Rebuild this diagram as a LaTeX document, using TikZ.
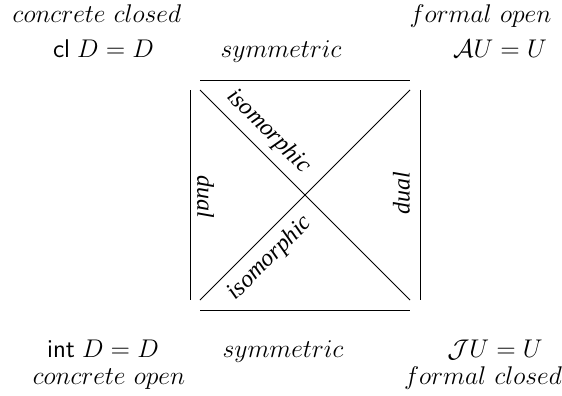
\documentclass[tikz,border=0pt,12pt]{standalone}
\usepackage{fix-cm}
\usepackage{fontspec}
\newfontfamily\labelfont{Liberation Serif}
\usetikzlibrary{calc}

\begin{document}
\begin{tikzpicture}[
    x=0.5pt, y=-0.5pt,
    corner/.style={anchor=base, inner sep=0pt, font=\fontsize{12.8}{15}\selectfont},
    relation/.style={inner sep=0pt, font=\labelfont\itshape},
    edge/.style={line width=0.4pt}
]
    \useasboundingbox (0,0) rectangle (562,396);

    % square corners and frame ends
    \coordinate (nw) at (200,90);
    \coordinate (ne) at (410,90);
    \coordinate (sw) at (200,300);
    \coordinate (se) at (410,300);

    \node[corner] (closedName) at (97,23) {$concrete\ closed$};
    \node[corner] (closedEq) at (103.5,57) {$\mathsf{cl}\; D = D$};
    \node[corner] (symTop) at (281,57) {$symmetric$};
    \node[corner] (openName) at (480.5,23) {$formal\ open$};
    \node[corner] (openEq) at (500,57) {$\mathcal{A}U = U$};

    \node[corner] (intEq) at (103,357) {$\mathsf{int}\; D = D$};
    \node[corner] (symBot) at (283,357) {$symmetric$};
    \node[corner] (formEq) at (495,357) {$\mathcal{J}U = U$};
    \node[corner] (intName) at (109,384) {$concrete\ open$};
    \node[corner] (formName) at (483,384) {$formal\ closed$};

    \draw[edge] ($(nw)+(0,-10)$) -- ($(ne)+(0,-10)$);
    \draw[edge] ($(sw)+(0,10)$) -- ($(se)+(0,10)$);
    \draw[edge] ($(nw)+(-10,0)$) -- ($(sw)+(-10,0)$);
    \draw[edge] ($(ne)+(10,0)$) -- ($(se)+(10,0)$);
    \draw[edge] (nw) -- (se);
    \draw[edge] (sw) -- (ne);

    \node[relation, rotate=-45] (isoTop) at (268.5,131.5) {isomorphic};
    \node[relation, rotate=45] (isoBot) at (270,258.5) {isomorphic};
    \node[relation, rotate=-90] (dualLeft) at (205.5,197) {dual};
    \node[relation, rotate=90] (dualRight) at (401.5,193) {dual};
\end{tikzpicture}
\end{document}
